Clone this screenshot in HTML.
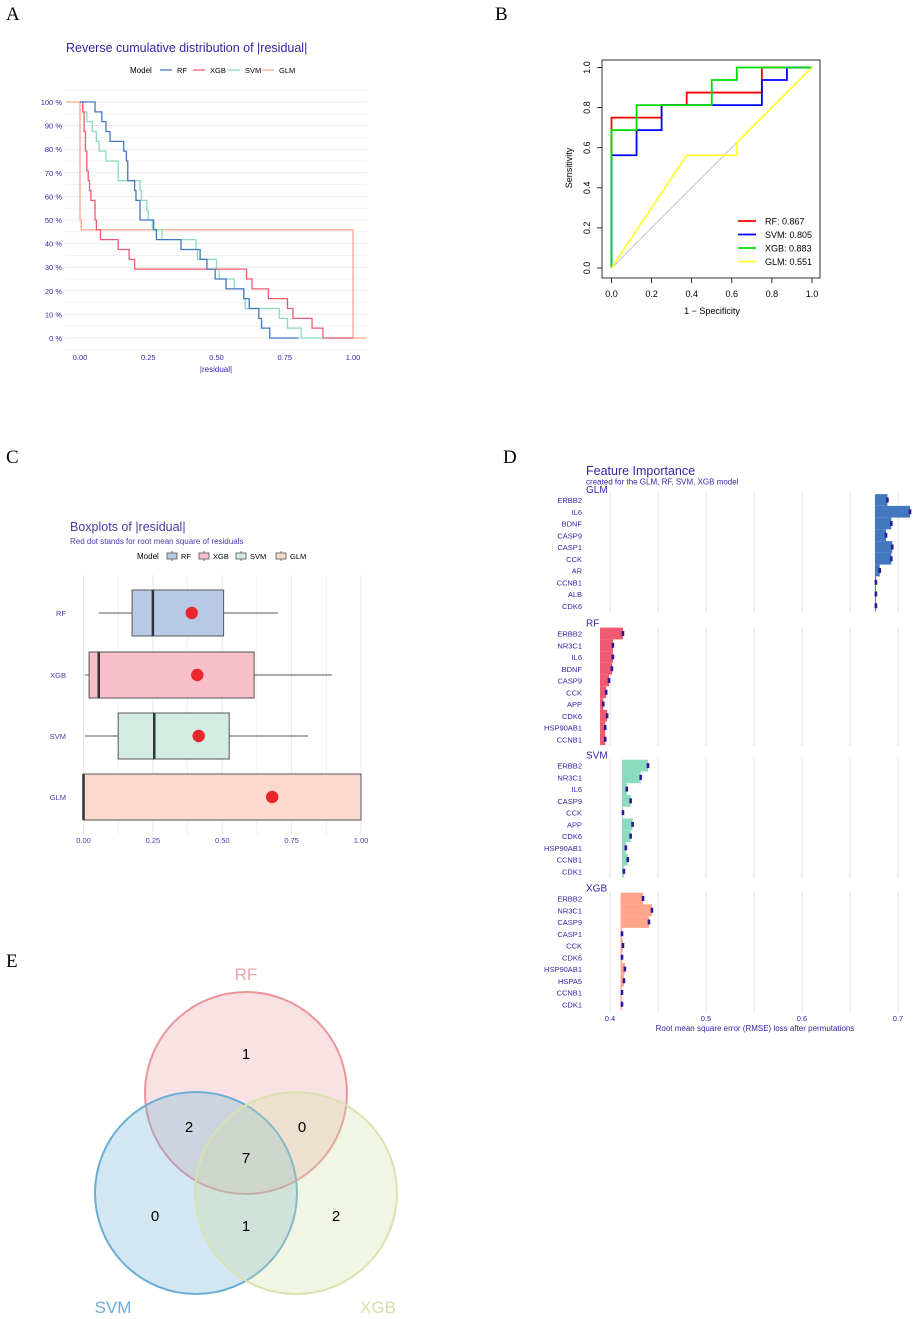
<!DOCTYPE html>
<html><head><meta charset="utf-8"><style>
body{margin:0;background:#fff}
svg{display:block;font-family:"Liberation Sans",sans-serif}
.p{fill:#371ea3}
.lbl{font-family:"Liberation Serif",serif;font-size:19px;fill:#000}
</style></head><body>
<svg id="s" width="913" height="1319" viewBox="0 0 913 1319" xmlns="http://www.w3.org/2000/svg">
<text class="lbl" x="6" y="20">A</text>
<text class="lbl" x="495" y="20">B</text>
<text class="lbl" x="6" y="463">C</text>
<text class="lbl" x="503" y="463">D</text>
<text class="lbl" x="6" y="967">E</text>
<g id="A"></g>
<g id="B"></g>
<g id="C"></g>
<g id="D"></g>
<g id="E">
<circle cx="246" cy="1093" r="101" fill="#e9858e" fill-opacity="0.24" stroke="#e9959c" stroke-width="2"/>
<circle cx="196" cy="1193" r="101" fill="#6aaed6" fill-opacity="0.3" stroke="#6aaed6" stroke-width="2"/>
<circle cx="296" cy="1193" r="101" fill="#cddc9a" fill-opacity="0.28" stroke="#d8e3b0" stroke-width="2"/>
<g font-size="15" text-anchor="middle" fill="#000">
<text x="246" y="1059">1</text>
<text x="189" y="1132">2</text>
<text x="302" y="1132">0</text>
<text x="246" y="1163">7</text>
<text x="155" y="1221">0</text>
<text x="246" y="1231">1</text>
<text x="336" y="1221">2</text>
</g>
<text x="246" y="980" font-size="17" text-anchor="middle" fill="#eea3a8">RF</text>
<text x="113" y="1313" font-size="17" text-anchor="middle" fill="#6aaed6">SVM</text>
<text x="378" y="1313" font-size="17" text-anchor="middle" fill="#d5dea8">XGB</text>
</g>
</svg>
<script>
// ---------- Panel A data ----------
const aModels = ["RF","XGB","SVM","GLM"];
const aRfX = [0,0.055,0.08,0.095,0.11,0.16,0.17,0.175,0.2,0.205,0.22,0.27,0.28,0.37,0.44,0.465,0.495,0.535,0.6,0.62,0.655,0.665,0.695,0.8];
const aRfY = [100,95.8,91.7,87.5,83.3,79.2,75,66.7,62.5,58.3,50,45.8,41.7,37.5,33.3,29.2,25,20.8,16.7,12.5,8.3,4.2,0,0];
const aXgbX = [0,0.01,0.015,0.02,0.025,0.03,0.035,0.04,0.055,0.06,0.075,0.14,0.18,0.2,0.61,0.63,0.69,0.76,0.78,0.85,0.89,1.0];
const aXgbY = [100,95.8,87.5,79.2,70.8,66.7,62.5,58.3,50,45.8,41.7,37.5,33.3,29.2,25,20.8,16.7,12.5,8.3,4.2,0,0];
const aSvmX = [0,0.01,0.025,0.045,0.06,0.07,0.095,0.14,0.22,0.225,0.245,0.25,0.265,0.3,0.425,0.43,0.5,0.51,0.565,0.6,0.605,0.73,0.76,0.81,1.0];
const aSvmY = [100,95.8,91.7,87.5,83.3,79.2,75,66.7,62.5,58.3,54.2,50,45.8,41.7,37.5,33.3,29.2,25,20.8,16.7,12.5,8.3,4.2,0,0];
const aGlmX = [-0.05,0,0.005,1.0,1.05];
const aGlmY = [100,50,45.8,0,0];
const aYTicks = [0,10,20,30,40,50,60,70,80,90,100];
const aXTicks = [0,0.25,0.5,0.75,1];
// ---------- Panel B data ----------
const bRfX=[0,0,0.25,0.25,0.375,0.375,0.75,0.75,1], bRfY=[0,0.75,0.75,0.8125,0.8125,0.875,0.875,1,1];
const bSvmX=[0,0,0.125,0.125,0.25,0.25,0.75,0.75,0.875,0.875,1], bSvmY=[0,0.5625,0.5625,0.6875,0.6875,0.8125,0.8125,0.9375,0.9375,1,1];
const bXgbX=[0,0,0.125,0.125,0.5,0.5,0.625,0.625,1], bXgbY=[0,0.6875,0.6875,0.8125,0.8125,0.9375,0.9375,1,1];
const bGlmX=[0,0.375,0.625,0.625,1], bGlmY=[0,0.5625,0.5625,0.625,1];
const bLegend=["RF: 0.867","SVM: 0.805","XGB: 0.883","GLM: 0.551"];
const bTicks=[0,0.2,0.4,0.6,0.8,1];
// ---------- Panel C data ----------
const cModels=["RF","XGB","SVM","GLM"];
const cWhiskLo=[0.055,0.005,0.005,0], cQ1=[0.175,0.02,0.125,0], cMed=[0.25,0.055,0.255,0], cQ3=[0.505,0.615,0.525,1], cWhiskHi=[0.70,0.895,0.81,1];
const cRmse=[0.39,0.41,0.415,0.68];
const cTicks=[0,0.25,0.5,0.75,1];
// ---------- Panel D data ----------
const dModels=["GLM","RF","SVM","XGB"];
const dBase=[0.676,0.3896,0.4125,0.411];
const dGlmVars=["ERBB2","IL6","BDNF","CASP9","CASP1","CCK","AR","CCNB1","ALB","CDK6"];
const dGlmVals=[0.689,0.7125,0.693,0.6875,0.694,0.693,0.681,0.677,0.677,0.677];
const dRfVars=["ERBB2","NR3C1","IL6","BDNF","CASP9","CCK","APP","CDK6","HSP90AB1","CCNB1"];
const dRfVals=[0.4135,0.403,0.403,0.402,0.399,0.396,0.393,0.397,0.395,0.395];
const dSvmVars=["ERBB2","NR3C1","IL6","CASP9","CCK","APP","CDK6","HSP90AB1","CCNB1","CDK1"];
const dSvmVals=[0.4396,0.432,0.4175,0.4215,0.4135,0.4235,0.4215,0.4165,0.4185,0.4145];
const dXgbVars=["ERBB2","NR3C1","CASP9","CASP1","CCK","CDK6","HSP90AB1","HSPA5","CCNB1","CDK1"];
const dXgbVals=[0.4344,0.4437,0.4406,0.4125,0.4135,0.4125,0.4155,0.4145,0.4125,0.4125];
const dTicks=[0.4,0.5,0.6,0.7];

const NS="http://www.w3.org/2000/svg";
function mk(parent,tag,attrs,text){const e=document.createElementNS(NS,tag);for(const k in attrs)e.setAttribute(k,attrs[k]);if(text!==undefined)e.textContent=text;parent.appendChild(e);return e;}
const P="#371ea3";

// ===== Panel A =====
(function(){
const g=document.getElementById('A');
const x=v=>80+v*273, y=v=>338-v*2.36;
for(let p=-5;p<=105;p+=5){const l=mk(g,'line',{x1:65,x2:367,y1:y(p),y2:y(p),stroke:'#ebebeb','stroke-width':p%10===0?1:0.7});
}
aYTicks.forEach(t=>{const e=mk(g,'text',{x:62,y:y(t)+3,'font-size':7.5,'text-anchor':'end',fill:P},t+' %');
});
aXTicks.forEach(t=>{const e=mk(g,'text',{x:x(t),y:360,'font-size':7.5,'text-anchor':'middle',fill:P},t.toFixed(2));
});
let e=mk(g,'text',{x:216,y:372,'font-size':8,'text-anchor':'middle',fill:P},'|residual|');

e=mk(g,'text',{x:66,y:52,'font-size':12.5,fill:P},'Reverse cumulative distribution of |residual|');

const cols=["#4378bf","#f05a71","#8bdcbe","#ffa58c"];
e=mk(g,'text',{x:130,y:73,'font-size':8,fill:'#000'},'Model');
const lx=[160,193,228,262];
aModels.forEach((m,i)=>{mk(g,'line',{x1:lx[i],x2:lx[i]+12,y1:70,y2:70,stroke:cols[i],'stroke-width':1.3});
const t=mk(g,'text',{x:lx[i]+17,y:73,'font-size':7.5,fill:'#000'},m);});
const series=[[aRfX,aRfY],[aXgbX,aXgbY],[aSvmX,aSvmY],[aGlmX,aGlmY]];
[3,2,1,0].forEach(i=>{const [xs,ys]=series[i];let d='M'+x(xs[0])+','+y(ys[0]);
for(let k=1;k<xs.length;k++){d+=' H'+x(xs[k])+' V'+y(ys[k]);}
const pth=mk(g,'path',{d:d,fill:'none',stroke:cols[i],'stroke-width':1.3});
});
})();

// ===== Panel B =====
(function(){
const g=document.getElementById('B');
const x=v=>611.5+v*200.5, y=v=>268-v*200.5;
mk(g,'line',{x1:x(0),y1:y(0),x2:x(1),y2:y(1),stroke:'#aaa','stroke-width':0.7});
const cols=["#ff0000","#0000ff","#00dd00","#ffff33"];
const series=[[bRfX,bRfY],[bSvmX,bSvmY],[bXgbX,bXgbY],[bGlmX,bGlmY]];
const names=["rf","svm","xgb","glm"];
series.forEach((s,i)=>{const pts=s[0].map((v,k)=>x(v)+','+y(s[1][k])).join(' ');
const pl=mk(g,'polyline',{points:pts,fill:'none',stroke:cols[i],'stroke-width':1.8});
});
mk(g,'rect',{x:602,y:60,width:218,height:218,fill:'none',stroke:'#000','stroke-width':0.8});
bTicks.forEach(t=>{mk(g,'line',{x1:x(t),x2:x(t),y1:278,y2:283,stroke:'#000','stroke-width':0.8});
let e=mk(g,'text',{x:x(t),y:297,'font-size':9,'text-anchor':'middle',fill:'#000'},t.toFixed(1));

mk(g,'line',{x1:597,x2:602,y1:y(t),y2:y(t),stroke:'#000','stroke-width':0.8});
e=mk(g,'text',{x:590,y:y(t),'font-size':9,'text-anchor':'middle',fill:'#000',transform:`rotate(-90 590 ${y(t)})`},t.toFixed(1));
});
let e=mk(g,'text',{x:712,y:314,'font-size':9,'text-anchor':'middle',fill:'#000'},'1 − Specificity');

e=mk(g,'text',{x:572,y:168,'font-size':9,'text-anchor':'middle',fill:'#000',transform:'rotate(-90 572 168)'},'Sensitivity');

bLegend.forEach((l,i)=>{const yy=221+i*13.5;mk(g,'line',{x1:738,x2:756,y1:yy,y2:yy,stroke:cols[i],'stroke-width':1.8});
const t=mk(g,'text',{x:765,y:yy+3.5,'font-size':9,fill:'#000'},l);});
})();

// ===== Panel C =====
(function(){
const g=document.getElementById('C');
const x=v=>83.5+v*277.5;
for(let v=0;v<=1.0001;v+=0.125){const l=mk(g,'line',{x1:x(v),x2:x(v),y1:575,y2:834,stroke:'#e8e8e8','stroke-width':v*8%2===0?1:0.7});
}
const fills=["#b7c9e5","#f7bfc9","#d4ede3","#fcd9ce"];
const cy=[613,675,736,797];
cModels.forEach((m,i)=>{const c=cy[i];
if(cWhiskHi[i]>cQ3[i])mk(g,'line',{x1:x(cQ3[i]),x2:x(cWhiskHi[i]),y1:c,y2:c,stroke:'#555','stroke-width':0.9});
if(cWhiskLo[i]<cQ1[i])mk(g,'line',{x1:x(cWhiskLo[i]),x2:x(cQ1[i]),y1:c,y2:c,stroke:'#555','stroke-width':0.9});
const r=mk(g,'rect',{x:x(cQ1[i]),y:c-23,width:x(cQ3[i])-x(cQ1[i]),height:46,fill:fills[i],stroke:'#555','stroke-width':1});

mk(g,'line',{x1:x(cMed[i]),x2:x(cMed[i]),y1:c-23,y2:c+23,stroke:'#333','stroke-width':2.5});
const d=mk(g,'circle',{cx:x(cRmse[i]),cy:c,r:6.2,fill:'#e8262b'});

const t=mk(g,'text',{x:66,y:c+3,'font-size':7.5,'text-anchor':'end',fill:'#4a3ba8'},m);
});
cTicks.forEach(t=>{const e=mk(g,'text',{x:x(t),y:843,'font-size':7.5,'text-anchor':'middle',fill:'#4a3ba8'},t.toFixed(2));
});
let e=mk(g,'text',{x:70,y:531,'font-size':12.5,fill:'#4a3ba8'},'Boxplots of |residual|');
e=mk(g,'text',{x:70,y:544,'font-size':8,fill:'#4a3ba8'},'Red dot stands for root mean square of residuals');
e=mk(g,'text',{x:137,y:559,'font-size':8,fill:'#000'},'Model');
const lx=[167,199,236,276];
cModels.forEach((m,i)=>{mk(g,'line',{x1:lx[i]+5,x2:lx[i]+5,y1:551,y2:561,stroke:'#555','stroke-width':0.8});
mk(g,'rect',{x:lx[i],y:553,width:10,height:6,fill:fills[i],stroke:'#555','stroke-width':0.8});
const t=mk(g,'text',{x:lx[i]+14,y:559,'font-size':7.5,fill:'#000'},m);});
})();

// ===== Panel D =====
(function(){
const g=document.getElementById('D');
const x=v=>610+(v-0.4)*960;
const vars=[dGlmVars,dRfVars,dSvmVars,dXgbVars], vals=[dGlmVals,dRfVals,dSvmVals,dXgbVals];
const cols=["#4378bf","#f05a71","#8bdcbe","#ffa58c"];
const top=[500,633.5,765.6,898.5], step=11.75;
let e=mk(g,'text',{x:586,y:475,'font-size':12.5,fill:P},'Feature Importance');
e=mk(g,'text',{x:586,y:484.5,'font-size':8,fill:P},'created for the GLM, RF, SVM, XGB model');
dModels.forEach((m,s)=>{const y0=top[s];
for(let v=0.4;v<=0.7001;v+=0.05){const l=mk(g,'line',{x1:x(v),x2:x(v),y1:y0-7,y2:y0+9*step+7,stroke:'#ebebeb','stroke-width':1.5});
}
const t=mk(g,'text',{x:586,y:y0-7,'font-size':10,fill:P},m);
vars[s].forEach((vn,k)=>{const yc=y0+k*step;
const r=mk(g,'rect',{x:x(dBase[s]),y:yc-step/2,width:Math.max(0.8,x(vals[s][k])-x(dBase[s])),height:step,fill:cols[s]});

const d=mk(g,'rect',{x:x(vals[s][k])-1.3,y:yc-2.5,width:2.6,height:5,fill:'#2a1a9a'});

const lb=mk(g,'text',{x:582,y:yc+3,'font-size':7.5,'text-anchor':'end',fill:P},vn);
});});
dTicks.forEach(t=>{const e=mk(g,'text',{x:x(t),y:1021,'font-size':7.5,'text-anchor':'middle',fill:P},t.toFixed(1));
});
e=mk(g,'text',{x:755,y:1031,'font-size':8,'text-anchor':'middle',fill:P},'Root mean square error (RMSE) loss after permutations');

})();
</script>
</body></html>
